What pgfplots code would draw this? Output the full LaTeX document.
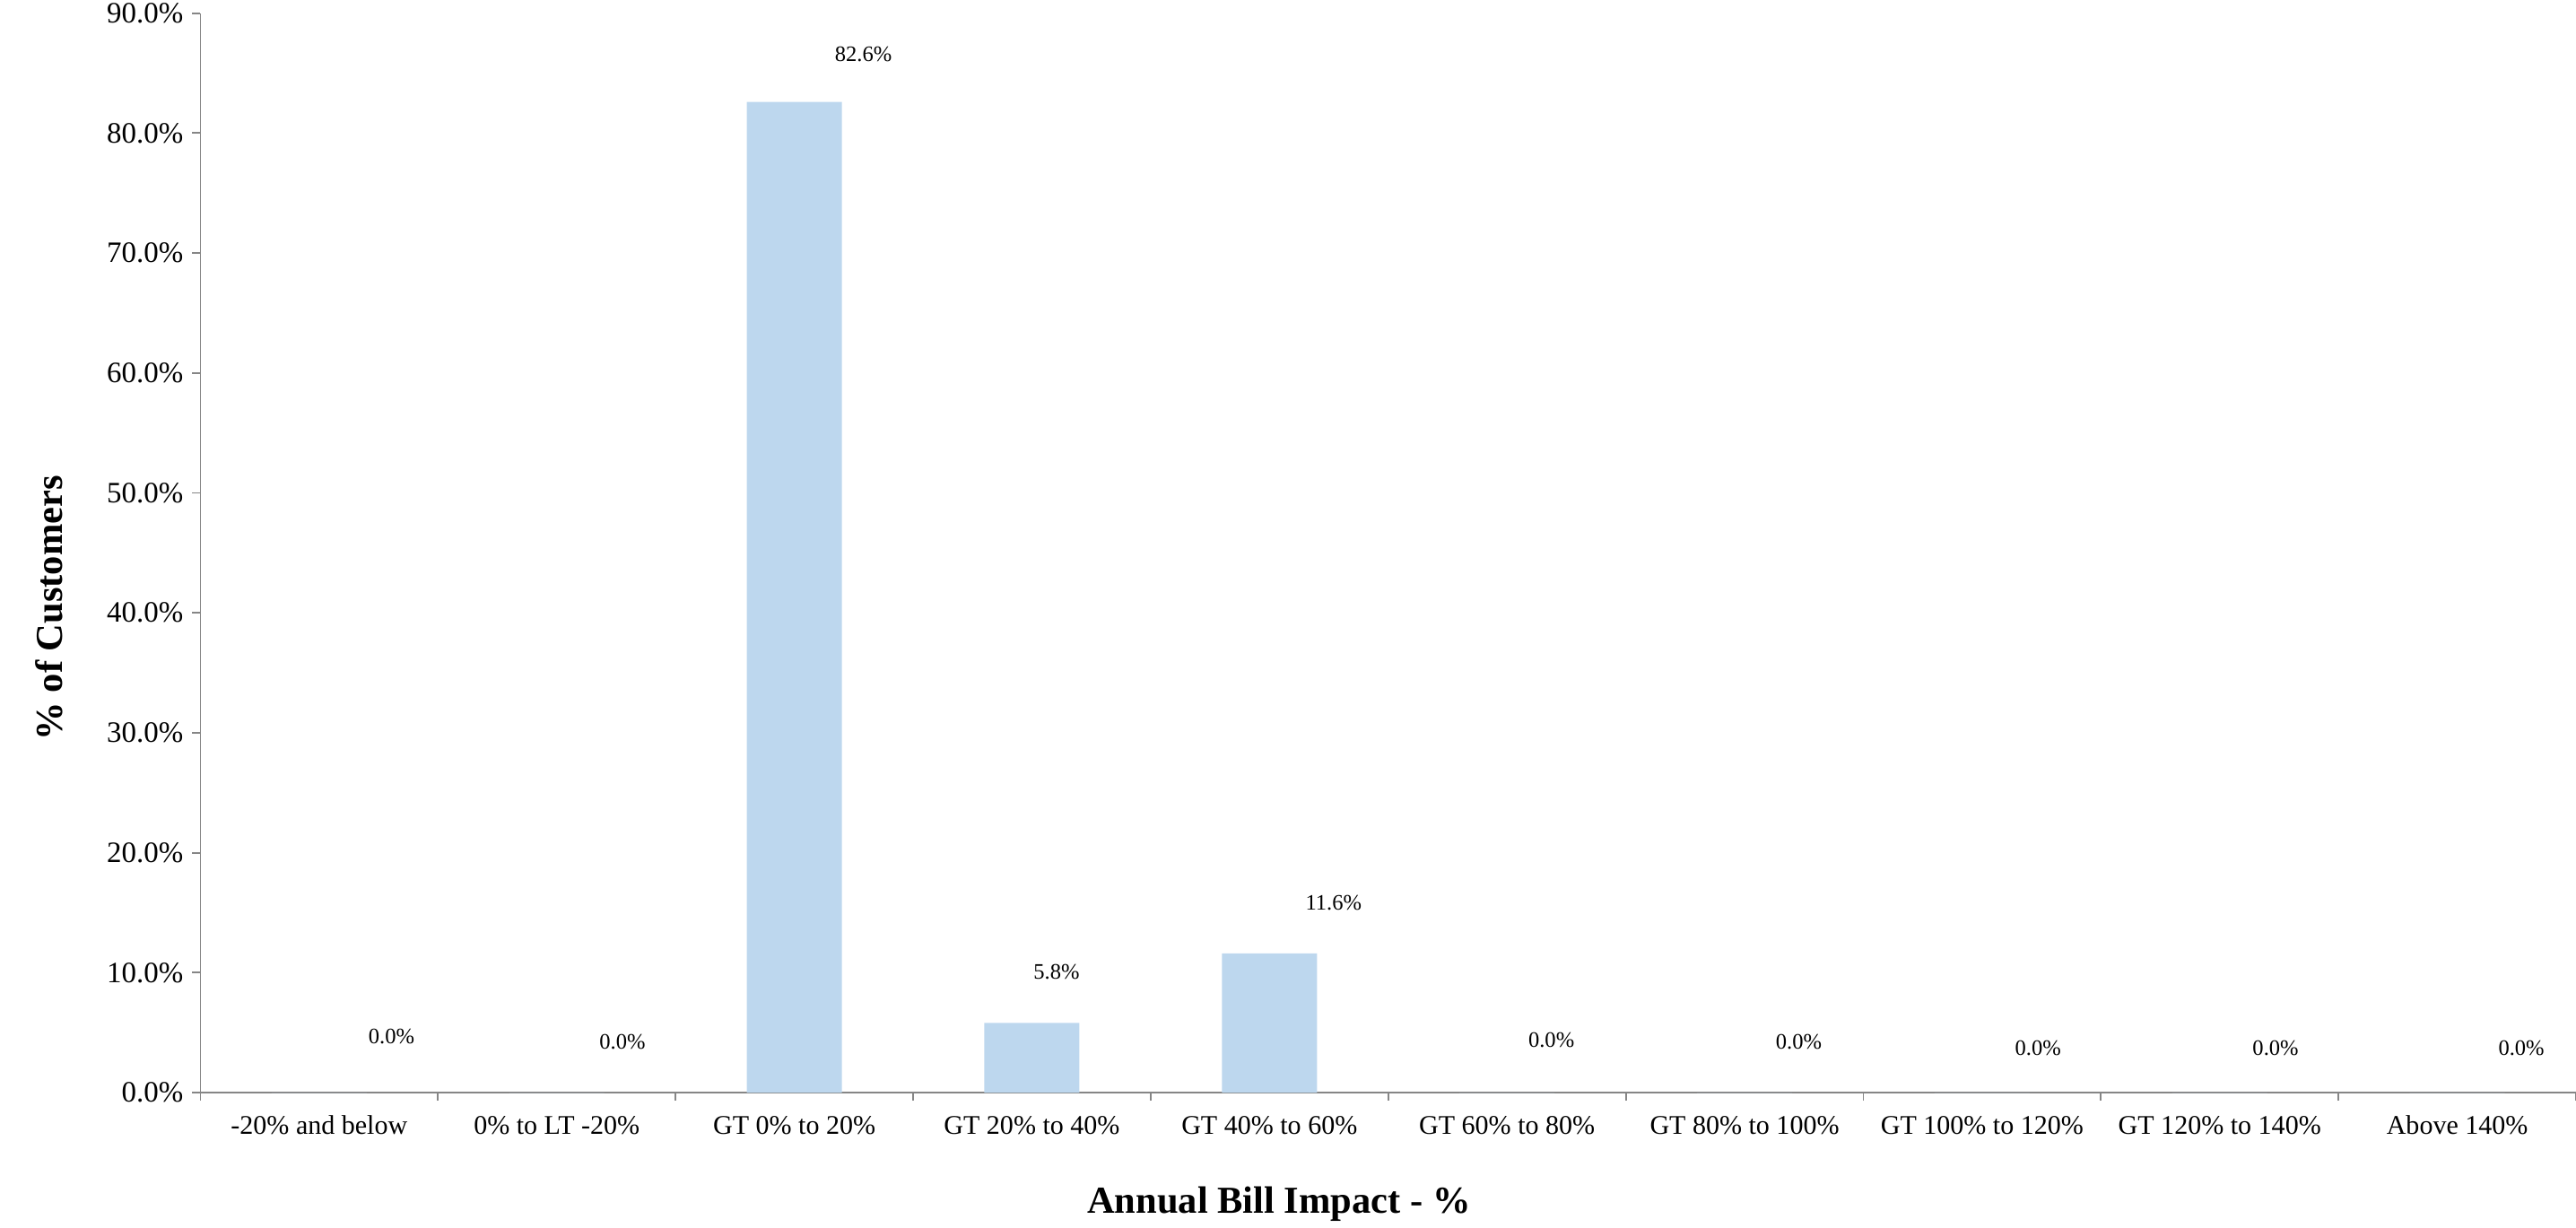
\documentclass[border=0pt]{standalone}
\usepackage{fontspec}
\setmainfont{Liberation Serif}
\usepackage{pgfplots}
\pgfplotsset{compat=1.18}
\usepackage{pgfplotstable}
\definecolor{barblue}{HTML}{BDD7EE}
\definecolor{axgray}{HTML}{868686}

\pgfplotstableread{
x y dx dy
0 0 22 17
1 0 20 15.5
2 82.6 21 14.5
3 5.8 7.5 15.5
4 11.6 19.5 15.5
5 0 13.5 16
6 0 16.5 15.5
7 0 17 13.5
8 0 17 13.5
9 0 19.5 13.5
}\datatable

\begin{document}
\begin{tikzpicture}
\useasboundingbox (-61pt,-41pt) rectangle (723pt,332.5pt);
\begin{axis}[
  at={(0,0)}, anchor=south west,
  width=723pt, height=328.5pt, scale only axis,
  xmin=-0.5, xmax=9.5, ymin=0, ymax=90,
  axis x line=bottom, axis y line=left,
  axis line style={-, draw=axgray, line width=0.5pt},
  tick style={draw=axgray, line width=0.5pt},
  tick align=outside, major tick length=2.5pt,
  xtick={-0.5,0.5,...,9.5}, xticklabels={},
  extra x ticks={0,1,2,3,4,5,6,7,8,9},
  extra x tick labels={-20\% and below, 0\% to LT -20\%, GT 0\% to 20\%, GT 20\% to 40\%, GT 40\% to 60\%, GT 60\% to 80\%, GT 80\% to 100\%, GT 100\% to 120\%, GT 120\% to 140\%, Above 140\%},
  extra x tick style={major tick length=0pt, tick style={draw=none}},
  ytick={0,10,...,90},
  yticklabel={\pgfmathprintnumber[fixed,fixed zerofill,precision=1]{\tick}\%},
  /pgf/number format/assume math mode=true,
  tick label style={font=\fontsize{8.2}{10}\selectfont, text=black},
  xticklabel style={anchor=center, yshift=-10pt},
  yticklabel style={anchor=east, inner sep=0pt, xshift=-2.5pt, font=\fontsize{9}{10}\selectfont},
  xlabel={Annual Bill Impact - \%},
  ylabel={\% of Customers},
  label style={font=\bfseries\fontsize{11.6}{13}\selectfont},
  xlabel style={at={(axis description cs:0.454,-0.1035)}, anchor=center},
  ylabel style={at={(axis description cs:-0.0636,0.449)}, anchor=center, rotate=0},
  ybar, bar width=0.4,
  clip=false,
]
\addplot[fill=barblue, draw=none, bar shift=0pt,
  point meta=y,
  nodes near coords={\pgfmathprintnumber[fixed,fixed zerofill,precision=1]{\pgfplotspointmeta}\%},
  visualization depends on={\thisrow{dx}\as\dx},
  visualization depends on={\thisrow{dy}\as\dy},
  every node near coord/.append style={font=\fontsize{6.7}{8}\selectfont, anchor=center, xshift=\dx pt, yshift=\dy pt, text=black},
] table[x=x,y=y]{\datatable};
\end{axis}
\end{tikzpicture}
\end{document}
